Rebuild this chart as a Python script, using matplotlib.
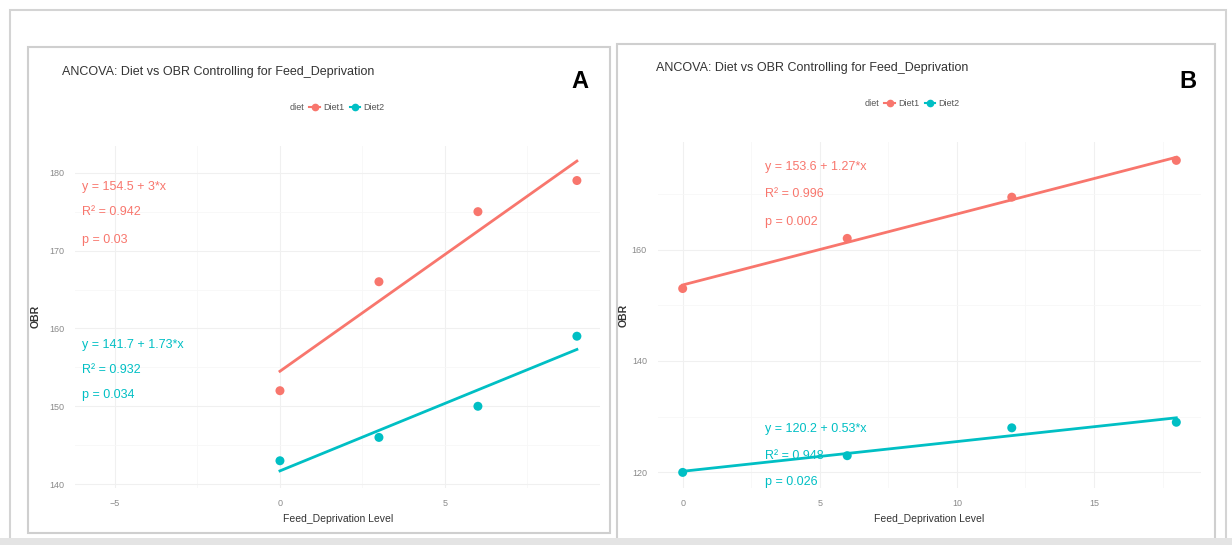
import numpy as np
import matplotlib
matplotlib.use("Agg")
import matplotlib.pyplot as plt
from matplotlib.patches import Rectangle
from matplotlib.lines import Line2D
from matplotlib.ticker import MultipleLocator

plt.rcParams['font.family'] = ['Liberation Sans', 'DejaVu Sans']

# data
x_a = [0, 3, 6, 9]
diet1_a = [152, 166, 175, 179]
diet2_a = [143, 146, 150, 159]
x_b = [0, 6, 12, 18]
diet1_b = [153, 162, 169.4, 176]
diet2_b = [120, 123, 128, 129]

labels_a = [["y = 154.5 + 3*x", "R² = 0.942", "p = 0.03"],
            ["y = 141.7 + 1.73*x", "R² = 0.932", "p = 0.034"]]
labels_b = [["y = 153.6 + 1.27*x", "R² = 0.996", "p = 0.002"],
            ["y = 120.2 + 0.53*x", "R² = 0.948", "p = 0.026"]]

RED = "#F8766D"
TEAL = "#00BFC4"
W, H = 1232, 545

fig = plt.figure(figsize=(12.32, 5.45), dpi=100)
fig.patch.set_facecolor("white")


def px_rect(x0, y0, x1, y1, **kw):
    # rectangle given in pixel coords (top-left origin)
    r = Rectangle((x0 / W, 1 - y1 / H), (x1 - x0) / W, (y1 - y0) / H,
                  transform=fig.transFigure, fill=False, **kw)
    fig.add_artist(r)


# screenshot frames
px_rect(10, 10, 1226, 560, edgecolor="#d4d4d4", lw=1.5)
px_rect(28, 47, 610, 533, edgecolor="#cfcfcf", lw=1.5)
px_rect(617, 44, 1215, 540, edgecolor="#cfcfcf", lw=1.5)
fig.add_artist(Rectangle((0, 0), 1, 7 / H, transform=fig.transFigure,
                         facecolor="#e4e4e4", edgecolor="none"))


def panel(rect, x, d1, d2, labels, lab_x, lab_y, xlim, ylim, xstep, ystep, ypad):
    ax = fig.add_axes(rect)
    for s in ax.spines.values():
        s.set_visible(False)
    ax.set_xlim(*xlim)
    ax.set_ylim(*ylim)
    ax.xaxis.set_major_locator(MultipleLocator(xstep))
    ax.xaxis.set_minor_locator(MultipleLocator(xstep / 2))
    ax.yaxis.set_major_locator(MultipleLocator(ystep))
    ax.yaxis.set_minor_locator(MultipleLocator(ystep / 2))
    ax.grid(which="major", color="#f0f0f0", lw=0.8)
    ax.grid(which="minor", color="#f7f7f7", lw=0.6)
    ax.set_axisbelow(True)
    ax.tick_params(which="both", length=0, labelsize=6.5, labelcolor="#8a8a8a", pad=8)
    for ys, col in zip([d1, d2], [RED, TEAL]):
        ax.scatter(x, ys, s=42, color=col, zorder=3, edgecolors="none")
        k, b = np.polyfit(x, ys, 1)
        xx = np.array([min(x), max(x)])
        ax.plot(xx, b + k * xx, color=col, lw=2.0, zorder=2)
    for lab, col, yy in zip(labels, [RED, TEAL], lab_y):
        for i, t in enumerate(lab):
            ax.text(lab_x, yy[i], t, color=col, fontsize=9, va="center",
                    ha="left", clip_on=True)
    ax.set_xlabel("Feed_Deprivation Level", fontsize=7.5, color="#333333", labelpad=4)
    ax.set_ylabel("OBR", fontsize=7.5, color="#333333", fontweight="bold", labelpad=ypad)
    return ax


ax_a = panel([75.4 / W, 1 - 488 / H, 524.6 / W, 342.5 / H],
             x_a, diet1_a, diet2_a, labels_a, -6.0,
             [[178.2, 175.0, 171.4], [157.9, 154.7, 151.5]],
             (-6.2, 9.7), (139.5, 183.5), 5, 10, 6)
ax_b = panel([658 / W, 1 - 488 / H, 543 / W, 346 / H],
             x_b, diet1_b, diet2_b, labels_b, 3.0,
             [[174.9, 169.9, 165.0], [127.7, 122.9, 118.2]],
             (-0.9, 18.9), (117.2, 179.3), 5, 20, 2)

for ax, tx, ty, letter, lx, ly in [(ax_a, 62, 72, "A", 580, 82), (ax_b, 656, 68, "B", 1188, 82)]:
    fig.text(tx / W, 1 - ty / H, "ANCOVA: Diet vs OBR Controlling for Feed_Deprivation",
             fontsize=9, color="#333333", va="center", ha="left")
    fig.text(lx / W, 1 - ly / H, letter, fontsize=17, fontweight="bold",
             color="black", va="center", ha="center")

# inline legends "diet  ● Diet1  ● Diet2"
for cx, cy in [(330, 108), (905, 104)]:
    handles = [Line2D([], [], ls="none"),
               Line2D([], [], color=RED, marker="o", ms=4.5, lw=1.5),
               Line2D([], [], color=TEAL, marker="o", ms=4.5, lw=1.5)]
    fig.legend(handles, ["diet", "Diet1", "Diet2"], loc="center",
               bbox_to_anchor=(cx / W, 1 - cy / H), ncol=3, frameon=False,
               fontsize=6.5, handlelength=1.2, handletextpad=0.3,
               columnspacing=0.6, labelcolor="#555555")

fig.savefig("out.png", dpi=100)
